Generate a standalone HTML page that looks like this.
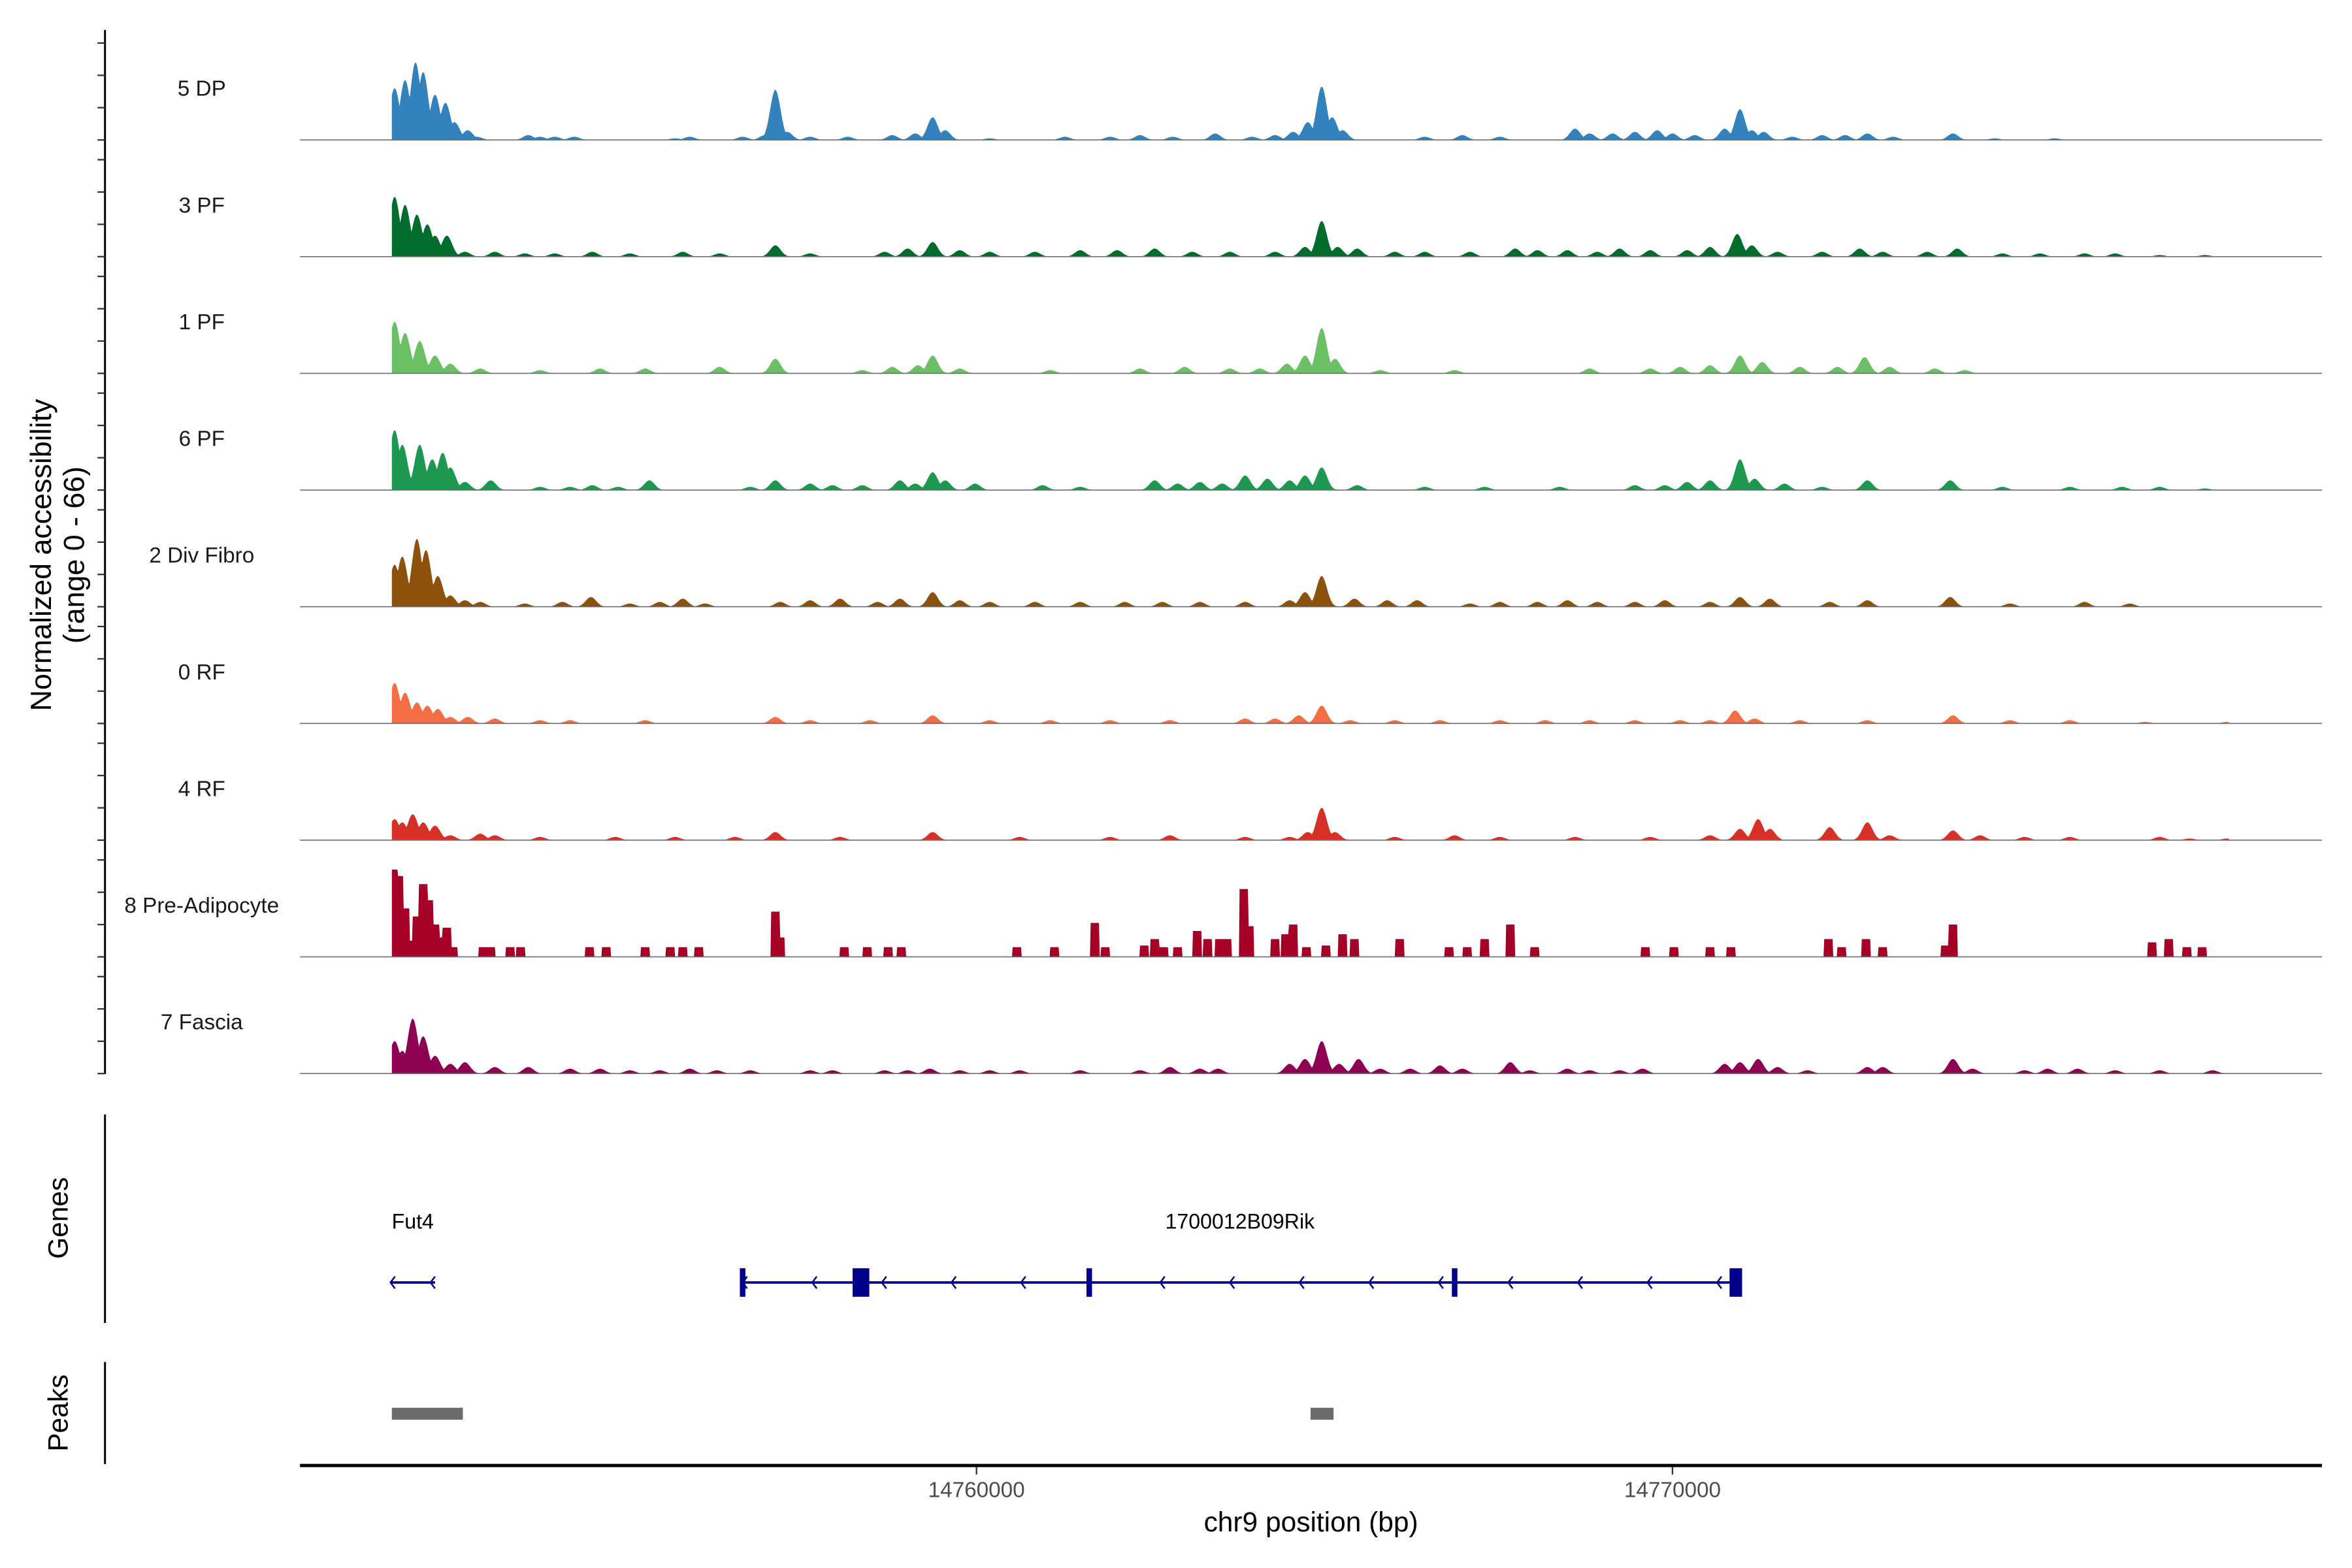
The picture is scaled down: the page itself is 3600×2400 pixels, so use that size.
<!DOCTYPE html>
<html><head><meta charset="utf-8"><style>html,body{margin:0;padding:0;background:#fff}svg{display:block}text{font-family:"Liberation Sans",Arial,sans-serif}</style></head>
<body>
<svg id="chart" width="3600" height="2400" viewBox="0 0 1568 1045.33" xmlns="http://www.w3.org/2000/svg">
<rect width="1568" height="1045.33" fill="#fff"/>
<g id="tracks"></g>
<g id="axes"></g>
<g id="genes"></g>
<g id="peaks"></g>
</svg>
<script>
// positions are kb offsets from chr9:14,750,000
const trackNames=["5 DP","3 PF","1 PF","6 PF","2 Div Fibro","0 RF","4 RF","8 Pre-Adipocyte","7 Fascia"];
const trackColors=["#3182bd","#006d2c","#6bbf64","#1e9850","#8c510a","#f46d43","#d73027","#a50026","#8e0152"];
const dpPos=[1.64,1.79,1.94,2.05,2.22,2.37,2.50,2.69,2.82,3.56,3.73,3.94,4.22,5.67,5.88,6.64,6.96,7.11,7.28,7.61,8.15,8.79,9.12,9.37,9.55,10.19,11.27,11.92,12.35,12.82,13.43,13.96,14.29,14.55,14.76,14.96,15.11,15.26,16.44,16.98,17.52,18.60,18.81,19.14,19.46,19.78,20.00,20.32,20.75,20.97,21.14,21.31,21.72,22.15,22.48,22.80,23.17,24.03,24.63,25.49];
const dpVal=[32,37,48,42,28,23,11,6,2,3,2,2,2,1,2,2,3,31,5,2,2,3,4,14,6,1,2,2,3,2,4,2,3,5,11,33,14,6,2,3,2,7,4,4,5,6,4,3,7,19,6,5,2,3,3,4,2,4,1,1];
const pf3Pos=[1.64,1.79,1.96,2.11,2.22,2.39,2.65,3.08,3.51,3.94,4.48,5.02,5.78,6.31,7.11,7.61,8.68,9.01,9.37,9.76,10.19,10.84,11.49,12.02,12.56,13.10,13.64,14.29,14.72,14.96,15.19,15.47,16.01,16.44,17.09,17.74,18.06,18.49,18.92,19.24,19.68,20.21,20.54,20.93,21.14,21.51,22.15,22.69,23.02,23.66,24.09,24.74,25.28,25.92,26.36,27.00,27.65];
const pf3Val=[37,32,26,20,13,13,3,3,2,2,3,2,3,2,7,2,3,5,9,4,3,3,4,4,5,3,3,3,6,22,6,5,3,3,3,5,4,4,3,5,4,4,6,14,7,3,3,5,3,3,5,2,2,2,2,1,1];
const pf1Pos=[1.64,1.79,2.00,2.22,2.44,2.87,3.73,4.59,5.24,6.31,7.11,8.36,8.79,9.16,9.37,9.76,11.06,12.35,12.99,13.64,14.07,14.46,14.72,14.96,15.15,15.80,16.87,18.81,19.68,20.11,20.54,20.97,21.29,21.83,22.37,22.76,23.12,23.77,24.20];
const pf1Val=[32,25,20,11,6,3,2,3,3,4,9,2,4,5,11,3,2,3,4,3,3,6,11,28,9,2,2,3,3,4,5,11,7,4,4,10,4,3,2];
const pf6Pos=[1.64,1.75,2.00,2.18,2.33,2.44,2.65,3.02,3.73,4.16,4.48,4.85,5.30,6.75,7.11,7.61,7.93,8.36,8.90,9.12,9.37,9.55,9.98,10.95,11.49,12.56,12.89,13.21,13.53,13.86,14.18,14.50,14.72,14.96,15.47,16.44,17.30,18.38,19.46,19.89,20.21,20.54,20.97,21.18,21.61,22.15,22.80,23.99,24.74,25.71,26.46,27.00,27.65];
const pf6Val=[37,28,28,19,23,14,5,6,2,2,3,2,6,2,6,4,3,3,6,4,11,6,4,3,2,6,4,5,4,9,7,6,9,14,3,2,2,2,3,3,5,6,19,7,4,2,6,6,2,2,2,2,1];
const divPos=[1.64,1.75,1.96,2.09,2.26,2.44,2.65,2.87,3.51,4.05,4.46,5.02,5.45,5.78,6.10,7.18,7.61,8.04,8.58,8.90,9.37,9.76,10.19,10.84,11.49,12.13,12.67,13.21,13.86,14.50,14.72,14.96,15.43,15.90,16.33,17.09,17.52,18.06,18.49,18.92,19.46,19.89,20.54,20.97,21.40,22.26,22.80,23.99,24.85,25.92,26.57];
const divVal=[26,31,42,35,19,7,4,3,2,3,6,2,3,5,2,3,4,5,3,5,9,4,3,3,3,3,3,3,3,4,9,19,5,4,4,2,3,3,4,3,3,4,3,6,5,3,4,6,2,3,2];
const rf0Pos=[1.64,1.79,1.96,2.11,2.26,2.44,2.69,3.08,3.73,4.16,5.24,7.11,7.61,8.47,9.37,10.19,11.06,11.92,12.78,13.86,14.29,14.63,14.96,15.37,16.01,16.66,17.52,18.17,18.81,19.46,20.11,20.54,20.90,21.18,21.83,22.80,24.03,24.85,25.71,26.79,27.97];
const rf0Val=[25,19,13,11,9,4,4,3,2,2,2,4,2,2,5,2,2,2,2,3,3,5,11,2,2,2,2,2,2,2,2,2,8,3,2,2,5,2,2,1,1];
const rf4Pos=[1.64,1.75,1.90,2.05,2.22,2.44,2.87,3.08,3.73,4.81,5.67,6.53,7.11,8.04,9.37,10.62,11.92,12.78,13.86,14.50,14.76,14.96,15.15,16.01,16.87,17.52,18.60,19.68,20.54,20.97,21.23,21.40,22.26,22.80,23.12,24.03,24.42,25.06,25.71,27.00,27.43,27.97];
const rf4Val=[13,11,16,11,9,3,4,3,2,2,2,2,5,2,5,2,2,3,2,2,5,20,5,2,3,2,2,2,3,7,13,7,8,11,3,6,3,2,2,2,1,1];
const preBlockPos=[1.62,1.70,1.79,1.87,1.96,2.05,2.13,2.22,2.33,2.39,2.48,2.91,3.02,3.30,3.45,4.44,4.68,5.24,5.60,5.78,6.01,7.11,7.18,8.10,8.43,8.73,8.92,10.58,11.12,11.70,11.85,12.41,12.56,12.69,12.89,13.17,13.32,13.49,13.60,13.84,13.92,14.29,14.44,14.55,14.74,15.02,15.26,15.43,16.08,16.79,17.05,17.30,17.67,18.02,19.61,20.02,20.54,20.84,22.24,22.43,22.78,23.02,23.92,24.03,26.89,27.13,27.39,27.61];
const preBlockVal=[54,50,30,10,25,45,35,20,12,18,6,6,6,6,6,6,6,6,6,6,6,28,12,6,6,6,6,6,6,21,6,7,11,6,6,16,11,11,11,42,19,11,14,20,6,7,14,11,11,6,6,11,20,6,6,6,6,6,11,6,11,6,7,20,9,11,6,6];
const fasPos=[1.64,1.75,1.90,2.05,2.22,2.44,2.65,3.08,3.56,4.16,4.59,5.02,5.45,5.88,6.27,6.75,7.61,7.93,8.68,9.01,9.33,9.76,10.19,10.62,11.49,12.35,12.78,13.21,13.47,14.50,14.72,14.96,15.21,15.49,15.80,16.23,16.66,16.98,17.67,17.95,18.49,18.81,19.24,19.57,20.75,20.97,21.23,21.51,21.94,22.80,23.02,24.03,24.31,25.06,25.39,25.82,26.36,27.00,27.76];
const fasVal=[20,14,34,23,11,6,7,4,4,3,3,2,2,3,2,2,2,2,2,2,3,2,2,2,2,2,4,3,3,6,9,20,6,9,3,3,5,3,7,2,3,2,2,3,6,7,9,4,2,4,4,9,3,2,3,3,2,2,2];
const geneNames=["Fut4","1700012B09Rik"];
const geneStart=[1.58,6.64];
const geneEnd=[2.22,20.93];
const exonStart=[6.60,8.22,11.58,16.83,20.82];
const exonEnd=[6.68,8.46,11.66,16.91,21.00];
const peakStart=[1.60,14.80];
const peakEnd=[2.62,15.13];
const xTicks=[14760000,14770000];
const yTicks=[0,20,40,60];

const NS="http://www.w3.org/2000/svg";
function mk(tag,attrs,parent){const e=document.createElementNS(NS,tag);for(const k in attrs)e.setAttribute(k,attrs[k]);parent.appendChild(e);return e;}
const xS=kb=>651+(kb-10)*46.4;
const xBp=bp=>xS((bp-14750000)/1000);
const base0=93.3,trackStep=77.8,yUnit=1.077;
const baseY=i=>base0+i*trackStep;
const dataStart=1.60,dataEnd=28.0;
const seriesPos=[dpPos,pf3Pos,pf1Pos,pf6Pos,divPos,rf0Pos,rf4Pos,preBlockPos,fasPos];
const seriesVal=[dpVal,pf3Val,pf1Val,pf6Val,divVal,rf0Val,rf4Val,preBlockVal,fasVal];

const tracks=document.getElementById('tracks');
for(let t=0;t<trackNames.length;t++){
  const pos=seriesPos[t],val=seriesVal[t],blocky=(t===7);
  const by=baseY(t);
  let d="M"+xS(dataStart).toFixed(2)+","+by.toFixed(2);
  const step=0.01;
  for(let k=dataStart;k<=dataEnd;k+=step){
    let v=0;
    for(let j=0;j<pos.length;j++){
      const dd=Math.abs(k-pos[j])*1000;
      if(blocky){ if(dd<=62&&val[j]>v)v=val[j]; }
      else{ if(dd<260){const s=val[j]*Math.exp(-0.5*(dd/75)*(dd/75)); if(s>v)v=s;} }
    }
    d+="L"+xS(k).toFixed(2)+","+(by-v*yUnit).toFixed(2);
  }
  d+="L"+xS(dataEnd).toFixed(2)+","+by.toFixed(2)+"Z";
  const area=mk('path',{d:d,fill:trackColors[t],stroke:'none'},tracks);
  
  
  const bl=mk('line',{x1:200,x2:1548,y1:by,y2:by,stroke:'#6e6e6e','stroke-width':0.7},tracks);
  
  
  const lb=mk('text',{x:134.5,y:by-34,'text-anchor':'middle','dominant-baseline':'central','font-size':14.5,fill:'#1a1a1a'},tracks);
  lb.textContent=trackNames[t];
  
  
}

const axes=document.getElementById('axes');
let e=mk('line',{x1:70,x2:70,y1:20,y2:716,stroke:'#000','stroke-width':1.3},axes);


for(let t=0;t<trackNames.length;t++){
  for(const v of yTicks){
    const y=baseY(t)-v*yUnit;
    const tk=mk('line',{x1:65,x2:70,y1:y,y2:y,stroke:'#333','stroke-width':1},axes);
    
    
  }
}
const yt=mk('text',{transform:'translate(34,370) rotate(-90)','text-anchor':'middle','font-size':19.5,fill:'#000'},axes);


yt.innerHTML='<tspan x="0" dy="0">Normalized accessibility</tspan><tspan x="0" dy="22">(range 0 - 66)</tspan>';
e=mk('line',{x1:200,x2:1548,y1:977,y2:977,stroke:'#000','stroke-width':2.2},axes);


for(const b of xTicks){
  const x=xBp(b);
  const tk=mk('line',{x1:x,x2:x,y1:978,y2:983,stroke:'#333','stroke-width':1},axes);
  
  
  const tl=mk('text',{x:x,y:998,'text-anchor':'middle','font-size':14.5,fill:'#4d4d4d'},axes);
  tl.textContent=String(b);
  
  
}
const xt=mk('text',{x:874,y:1021,'text-anchor':'middle','font-size':18.5,fill:'#000'},axes);
xt.textContent='chr9 position (bp)';



const genes=document.getElementById('genes');
e=mk('line',{x1:70,x2:70,y1:743,y2:882,stroke:'#000','stroke-width':1.3},genes);


e=mk('text',{transform:'translate(45,812) rotate(-90)','text-anchor':'middle','font-size':18.5,fill:'#000'},genes);
e.textContent='Genes';


const gy=855;
function chevron(x){return "M"+(x+3)+","+(gy-4)+"L"+x+","+gy+"L"+(x+3)+","+(gy+4);}
for(let g=0;g<geneNames.length;g++){
  const x1=xS(geneStart[g]),x2=xS(geneEnd[g]);
  const ln=mk('line',{x1:x1,x2:x2,y1:gy,y2:gy,stroke:'#00008b','stroke-width':1.6},genes);
  
  
  let cd=chevron(x1);
  if(g===0){cd+=chevron(x2-3);}
  else{for(let k=geneStart[g]+1;k<geneEnd[g]-0.2;k+=1.0){let inEx=false;for(let j=0;j<exonStart.length;j++){if(k+0.03>=exonStart[j]-0.05&&k<=exonEnd[j]+0.05)inEx=true;}if(!inEx)cd+=chevron(xS(k));}}
  const ch=mk('path',{d:cd,fill:'none',stroke:'#00008b','stroke-width':1.1},genes);
  
  
  const tl=mk('text',{x:(x1+x2)/2,y:819,'text-anchor':'middle','font-size':14,fill:'#000'},genes);
  tl.textContent=geneNames[g];
  
  
}
for(let j=0;j<exonStart.length;j++){
  const x1=xS(exonStart[j]),x2=xS(exonEnd[j]);
  const r=mk('rect',{x:x1,y:845.5,width:Math.max(x2-x1,3),height:19,fill:'#00008b'},genes);
  
  
}

const peaks=document.getElementById('peaks');
e=mk('line',{x1:70,x2:70,y1:908,y2:976,stroke:'#000','stroke-width':1.3},peaks);


e=mk('text',{transform:'translate(45,942) rotate(-90)','text-anchor':'middle','font-size':18.5,fill:'#000'},peaks);
e.textContent='Peaks';


for(let j=0;j<peakStart.length;j++){
  const x1=xS(peakStart[j]),x2=xS(peakEnd[j]);
  const r=mk('rect',{x:x1,y:938.5,width:x2-x1,height:8,fill:'#6b6b6b'},peaks);
  
  
}
</script>
</body></html>
